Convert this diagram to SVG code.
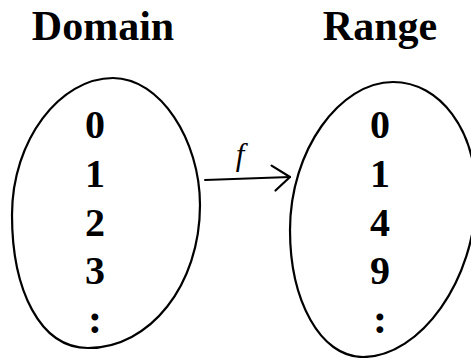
<svg xmlns="http://www.w3.org/2000/svg" width="471" height="358" viewBox="0 0 471 358">
  <defs>
    <marker id="open-head" markerUnits="userSpaceOnUse" markerWidth="26" markerHeight="30" refX="20" refY="13" orient="auto" overflow="visible">
      <path d="M2,1 L20,13 L5,26" fill="none" stroke="#000" stroke-width="2.2" stroke-linecap="round" stroke-linejoin="round"/>
    </marker>
  </defs>
  <style>
    .title { font-family: "Liberation Serif", "Times New Roman", serif; font-weight: bold; font-size: 42px; fill: #000; }
    .num { font-family: "Liberation Serif", "Times New Roman", serif; font-weight: bold; font-size: 40px; fill: #000; text-anchor: middle; }
    .dots { font-size: 42px; }
    .set { fill: none; stroke: #000; stroke-width: 2.2; stroke-linejoin: round; }
    .edge { fill: none; stroke: #000; stroke-width: 2; stroke-linecap: round; }
    .label { font-family: "Liberation Serif", "Times New Roman", serif; font-style: italic; font-size: 31px; fill: #000; text-anchor: middle; }
  </style>
  <rect width="471" height="358" fill="#fff"/>

  <!-- Domain set -->
  <g id="domain">
    <text class="title" x="103" y="40" text-anchor="middle">Domain</text>
    <path class="set" d="M113,78 C160,78 200,140 200,205 C200,285 150,348 88,348 C40,348 12,290 12,215 C12,140 60,78 113,78 Z"/>
    <text class="num" x="95" y="138">0</text>
    <text class="num" x="95" y="187">1</text>
    <text class="num" x="95" y="236">2</text>
    <text class="num" x="95" y="284">3</text>
    <text class="num dots" x="95" y="333">:</text>
  </g>

  <!-- Range set -->
  <g id="range">
    <text class="title" x="380" y="40" text-anchor="middle">Range</text>
    <path class="set" d="M393,82 C440,82 476,130 476,195 C476,280 420,357 363,357 C320,357 290,300 290,230 C290,150 340,82 393,82 Z"/>
    <text class="num" x="380" y="138">0</text>
    <text class="num" x="380" y="187">1</text>
    <text class="num" x="380" y="236">4</text>
    <text class="num" x="380" y="284">9</text>
    <text class="num dots" x="380" y="333">:</text>
  </g>

  <!-- mapping f -->
  <g id="connectors">
    <path class="edge" d="M205,180 L290,177" marker-end="url(#open-head)"/>
    <text class="label" x="240" y="165">f</text>
  </g>
</svg>
